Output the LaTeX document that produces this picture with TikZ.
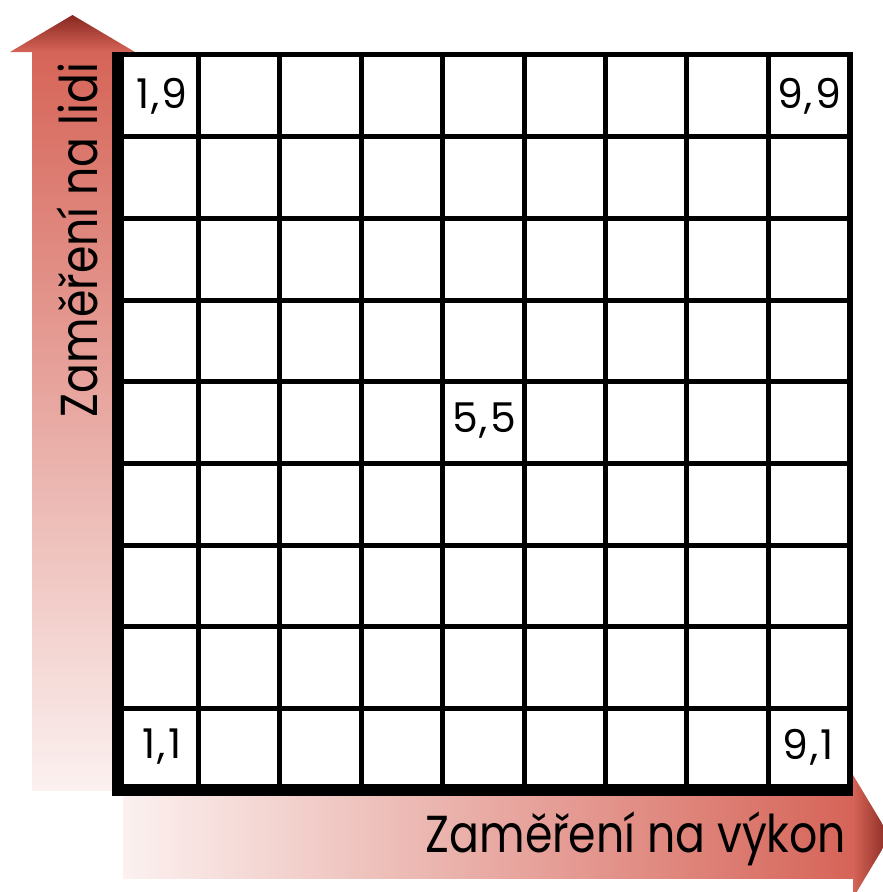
\documentclass[tikz,border=0pt]{standalone}
\usepackage{fontspec}
\setmainfont{Poppins}
\usetikzlibrary{calc}
\definecolor{arrowred}{RGB}{214,100,88}
\definecolor{arrowdark}{RGB}{135,40,32}
\definecolor{arrowpale}{RGB}{251,241,240}
\newcommand{\narrow}[1]{\scalebox{0.85}[1]{#1}}
\newcommand{\pair}[2]{#1\kern2pt,\kern2pt#2}
\tikzset{
  gridline/.style={line width=5pt, black},
  cellnum/.style={font=\fontsize{41}{41}\selectfont, inner sep=0pt, anchor=center},
  axislabel/.style={font=\fontsize{52}{52}\selectfont, inner sep=0pt, anchor=base}
}
\begin{document}
\begin{tikzpicture}[x=1pt,y=-1pt]
\useasboundingbox (0,0) rectangle (883,892);
\clip (0,0) rectangle (883,892);
% vertical arrow
\shade[top color=arrowred, bottom color=arrowpale] (32,52) rectangle (113,790);
\shade[top color=arrowdark, bottom color=arrowred] (10,52) -- (72.5,15) -- (135,52) -- cycle;
% horizontal arrow
\shade[left color=arrowpale, right color=arrowred] (123,796) rectangle (853,878);
\shade[left color=arrowred, right color=arrowdark] (853,775) -- (890,836.5) -- (853,898) -- cycle;
% grid
\foreach \i in {1,...,8}{
  \draw[gridline] ({117+81.4*\i},55) -- ({117+81.4*\i},790);
  \draw[gridline] (117,{55+81.7*\i}) -- (850,{55+81.7*\i});
}
\draw[line width=5.5pt] (112,54.5) -- (852.75,54.5);
\draw[line width=5.5pt] (850,52) -- (850,796);
\fill[black] (112,52) rectangle (123.5,796);
\fill[black] (112,784) rectangle (852.75,796);
% labels
\node[cellnum] (c19) at (162,96) {\pair{1}{9}};
\node[cellnum] (c99) at (809,96) {\pair{9}{9}};
\node[cellnum] (c55) at (484,421) {\pair{5}{5}};
\node[cellnum] (c11) at (162,747) {\pair{1}{1}};
\node[cellnum] (c91) at (808,747) {\pair{9}{1}};
\node[axislabel] (xl) at (636,852) {\narrow{Zaměření na výkon}};
\node[axislabel, rotate=90] (yl) at (97,240) {\narrow{Zaměření na lidi}};
\end{tikzpicture}
\end{document}
